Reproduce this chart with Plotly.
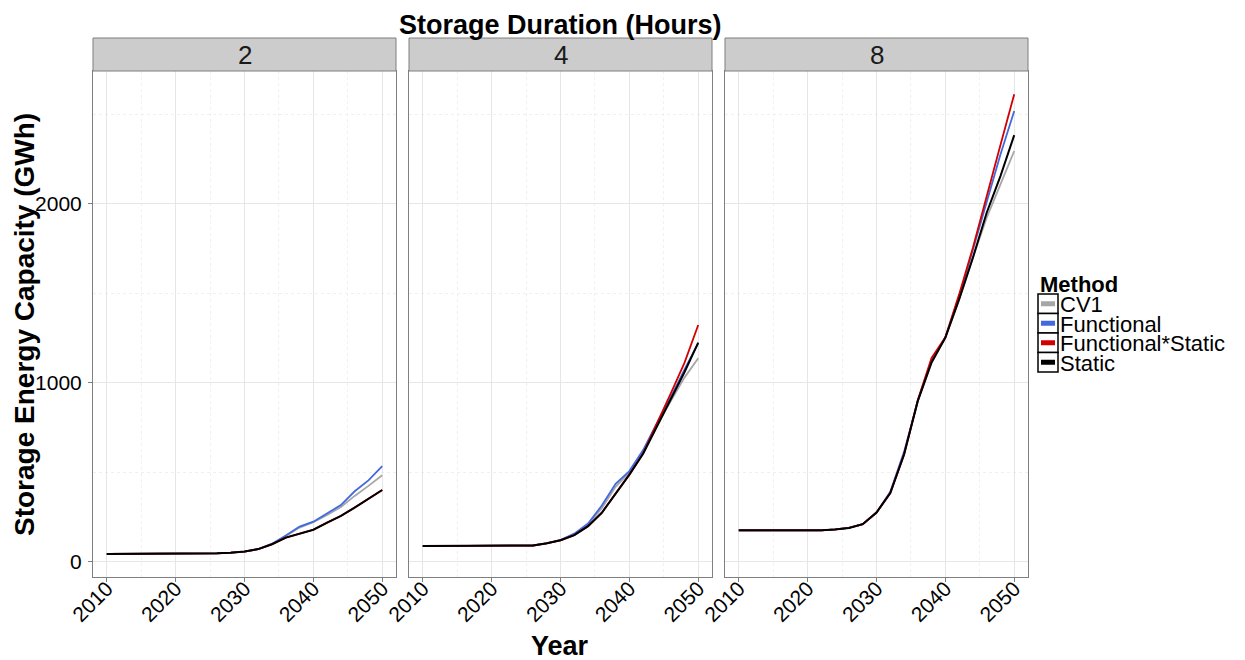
import plotly.graph_objects as go

# page is rendered with an 8px body margin; figure sized to fit the window
OFF = 8
W, H = 1245 - OFF, 660 - OFF

years = list(range(2010, 2051, 2))
durations = ["2", "4", "8"]
methods = ["CV1", "Functional", "Functional*Static", "Static"]
colors = {"CV1": "#a6a6a6", "Functional": "#4169e1", "Functional*Static": "#d40000", "Static": "#000000"}

# Duration 2 h
d2_cv1 = [45]*8 + [48, 52, 58, 72, 100, 145, 192, 222, 262, 307, 369, 425, 484]
d2_fun = [45]*8 + [48, 52, 58, 72, 102, 148, 198, 225, 270, 318, 395, 456, 536]
d2_fs = [45]*8 + [48, 52, 58, 72, 99, 136, 160, 180, 220, 257, 304, 352, 402]
d2_sta = [45]*8 + [48, 52, 58, 72, 99, 136, 160, 180, 220, 257, 304, 352, 402]

# Duration 4 h
d4_cv1 = [89]*8 + [92, 104, 122, 155, 210, 300, 420, 500, 615, 765, 900, 1030, 1138]
d4_fun = [89]*8 + [92, 104, 123, 158, 215, 315, 437, 508, 625, 775, 920, 1075, 1222]
d4_fs = [89]*8 + [92, 104, 121, 150, 200, 275, 380, 488, 608, 770, 940, 1112, 1324]
d4_sta = [89]*8 + [92, 104, 121, 150, 200, 275, 380, 488, 605, 755, 905, 1060, 1225]

# Duration 8 h
d8_cv1 = [177]*7 + [182, 190, 211, 276, 385, 600, 900, 1115, 1253, 1467, 1700, 1923, 2110, 2296]
d8_fun = [177]*7 + [182, 190, 211, 276, 392, 615, 900, 1125, 1255, 1485, 1745, 2017, 2277, 2519]
d8_fs = [177]*7 + [182, 190, 211, 276, 385, 600, 905, 1140, 1255, 1495, 1756, 2050, 2330, 2613]
d8_sta = [177]*7 + [182, 190, 211, 276, 385, 600, 900, 1115, 1253, 1467, 1700, 1951, 2156, 2385]

data = {
    "2": [d2_cv1, d2_fun, d2_fs, d2_sta],
    "4": [d4_cv1, d4_fun, d4_fs, d4_sta],
    "8": [d8_cv1, d8_fun, d8_fs, d8_sta],
}

x_ticks = [2010, 2020, 2030, 2040, 2050]
y_ticks = [0, 1000, 2000]


def px(xp):
    return (xp - OFF) / W


def py(yp):
    return 1 - (yp - OFF) / H


# panel geometry (page pixels)
panels_px = [(93, 396), (409, 712), (725, 1028)]
top_px, bot_px = 71, 577
strip_top = 38

fig = go.Figure()
FONT = "Liberation Sans, Arial, sans-serif"
TICKFONT = dict(family=FONT, size=21, color="#000000")

for i, d in enumerate(durations):
    ax = "" if i == 0 else str(i + 1)
    for m, vals in zip(methods, data[d]):
        fig.add_trace(go.Scatter(
            x=years, y=vals, mode="lines", name=m,
            line=dict(color=colors[m], width=2 if m == "Static" else 1.8),
            xaxis="x" + ax, yaxis="y" + ax, showlegend=False,
        ))
    x0, x1 = panels_px[i]
    fig.layout["xaxis" + ax] = dict(
        domain=[px(x0), px(x1)], range=[2008, 2052], anchor="y" + ax,
        tickmode="array", tickvals=x_ticks, ticktext=[str(t) for t in x_ticks], tickangle=-45,
        tickfont=TICKFONT, ticklabelstandoff=-14,
        ticks="outside", ticklen=4, tickcolor="#7f7f7f", tickwidth=1,
        showgrid=True, gridcolor="#e6e6e6", gridwidth=1,
        minor=dict(tickvals=[2015, 2025, 2035, 2045], showgrid=True, gridcolor="#f0f0f0",
                   gridwidth=1, griddash="dot", ticks=""),
        zeroline=False, showline=True, linecolor="#7f7f7f", linewidth=1, mirror=True,
        automargin=False, fixedrange=True,
    )
    fig.layout["yaxis" + ax] = dict(
        domain=[py(bot_px), py(top_px)], range=[-84, 2743], anchor="x" + ax,
        tickmode="array", tickvals=y_ticks, ticktext=[str(t) for t in y_ticks],
        showticklabels=(i == 0), ticklabelstandoff=2,
        tickfont=TICKFONT,
        ticks="outside" if i == 0 else "", ticklen=4, tickcolor="#7f7f7f", tickwidth=1,
        showgrid=True, gridcolor="#e6e6e6", gridwidth=1,
        minor=dict(tickvals=[500, 1500, 2500], showgrid=True, gridcolor="#f0f0f0",
                   gridwidth=1, griddash="dot", ticks=""),
        zeroline=False, showline=True, linecolor="#7f7f7f", linewidth=1, mirror=True,
        automargin=False, fixedrange=True,
    )

shapes = []
annotations = []
for i, d in enumerate(durations):
    x0, x1 = panels_px[i]
    shapes.append(dict(type="rect", xref="paper", yref="paper",
                       x0=px(x0), x1=px(x1), y0=py(top_px), y1=py(strip_top),
                       fillcolor="#cccccc", line=dict(color="#7f7f7f", width=1), layer="above"))
    annotations.append(dict(text=d, xref="paper", yref="paper", x=px((x0 + x1) / 2),
                            y=py((strip_top + top_px) / 2 + 1), showarrow=False,
                            xanchor="center", yanchor="middle",
                            font=dict(family=FONT, size=26, color="#1a1a1a")))

# titles
annotations.append(dict(text="<b>Storage Duration (Hours)</b>", xref="paper", yref="paper",
                        x=px(560), y=1, showarrow=False, xanchor="center", yanchor="top",
                        font=dict(family=FONT, size=27, color="#000000")))
annotations.append(dict(text="<b>Year</b>", xref="paper", yref="paper",
                        x=px(560), y=py(646), showarrow=False, xanchor="center", yanchor="middle",
                        font=dict(family=FONT, size=27, color="#000000")))
annotations.append(dict(text="<b>Storage Energy Capacity (GWh)</b>", xref="paper", yref="paper",
                        x=px(24), y=py(325), showarrow=False, xanchor="center", yanchor="middle",
                        textangle=-90, font=dict(family=FONT, size=28, color="#000000")))

# legend
annotations.append(dict(text="<b>Method</b>", xref="paper", yref="paper",
                        x=px(1038), y=py(284), showarrow=False, xanchor="left", yanchor="middle",
                        font=dict(family=FONT, size=22, color="#000000")))
row_h = 19.5
for k, m in enumerate(methods):
    yt = 294 + k * row_h
    yb = yt + row_h
    shapes.append(dict(type="rect", xref="paper", yref="paper",
                       x0=px(1038), x1=px(1058), y0=py(yb), y1=py(yt),
                       fillcolor="#ffffff", line=dict(color="#000000", width=1.5)))
    yc = (yt + yb) / 2
    shapes.append(dict(type="line", xref="paper", yref="paper",
                       x0=px(1041), x1=px(1055), y0=py(yc), y1=py(yc),
                       line=dict(color=colors[m], width=5)))
    annotations.append(dict(text=m, xref="paper", yref="paper",
                            x=px(1059), y=py(yc + 1), showarrow=False, xanchor="left", yanchor="middle",
                            borderpad=0,
                            font=dict(family=FONT, size=22, color="#000000")))

fig.update_layout(
    width=W, height=H, margin=dict(l=0, r=0, t=0, b=0),
    paper_bgcolor="#ffffff", plot_bgcolor="#ffffff",
    showlegend=False, shapes=shapes, annotations=annotations,
    font=dict(family=FONT),
)

fig.write_html("out.html")
